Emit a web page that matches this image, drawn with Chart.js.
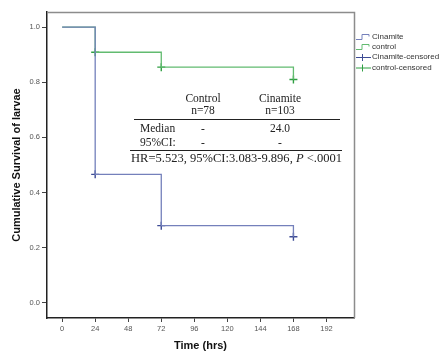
<!DOCTYPE html>
<html>
<head>
<meta charset="utf-8">
<script src="https://cdn.jsdelivr.net/npm/chart.js@4.4.1/dist/chart.umd.min.js"></script>
<style>
  html, body { margin: 0; padding: 0; background: #fff; }
  #wrap { width: 439px; height: 353px; }
</style>
</head>
<body>
<div id="wrap"><canvas id="myChart" width="439" height="353"></canvas></div>
<script>
const times = [0, 24, 72, 168];
const controlSurv = [1.0, 0.909, 0.855, 0.81];
const cinamiteSurv = [1.0, 0.466, 0.28, 0.24];
const censorTimes = [24, 72, 168];
const controlCensored = [0.909, 0.855, 0.81];
const cinamiteCensored = [0.466, 0.28, 0.24];
const xTicks = [0, 24, 48, 72, 96, 120, 144, 168, 192];
const yTicks = [0, 0.2, 0.4, 0.6, 0.8, 1.0];
const legendLabels = ['Cinamite', 'control', 'Cinamite-censored', 'control-censored'];
const groupNames = ['Control', 'Cinamite'];
const groupN = ['n=78', 'n=103'];
const medians = ['-', '24.0'];
const medianCI = ['-', '-'];

const BLUE = '#7480bb';
const BLUE_MARK = '#3d4b95';
const GREEN = '#62bb70';
const GREEN_MARK = '#2f9f42';

const ctx = document.getElementById('myChart').getContext('2d');

function pts(xs, ys) {
    return xs.map((x, i) => ({ x: x, y: ys[i] }));
}

// рамка сверху и справа
const framePlugin = {
    id: 'frame',
    beforeDatasetsDraw(chart) {
        const a = chart.chartArea;
        const c = chart.ctx;
        c.save();
        c.strokeStyle = '#8c8c8c';
        c.lineWidth = 1.5;
        c.beginPath();
        c.moveTo(a.left, a.top + 0.5);
        c.lineTo(a.right + 0.5, a.top + 0.5);
        c.lineTo(a.right + 0.5, a.bottom);
        c.stroke();
        c.restore();
    }
};

// таблица с медианами
const tablePlugin = {
    id: 'table',
    afterDatasetsDraw(chart) {
        const c = chart.ctx;
        c.save();
        c.fillStyle = '#222';
        c.textBaseline = 'middle';
        c.textAlign = 'center';
        c.font = '11.5px "Liberation Serif", "Times New Roman", serif';
        const cols = [203, 280];
        cols.forEach((x, i) => {
            c.fillText(groupNames[i], x, 99);
            c.fillText(groupN[i], x, 111);
            c.fillText(medians[i], x, 129);
            c.fillText(medianCI[i], x, 143);
        });
        c.textAlign = 'left';
        c.fillText('Median', 140, 129);
        c.fillText('95%CI:', 140, 143);

        c.strokeStyle = '#222';
        c.lineWidth = 1;
        c.beginPath();
        c.moveTo(134, 119.5);
        c.lineTo(340, 119.5);
        c.moveTo(130, 150.5);
        c.lineTo(342, 150.5);
        c.stroke();

        // строка HR растянута до ширины таблицы
        const parts = [
            { t: 'HR=5.523, 95%CI:3.083-9.896, ', f: '12px "Liberation Serif", serif' },
            { t: 'P', f: 'italic 12px "Liberation Serif", serif' },
            { t: ' <.0001', f: '12px "Liberation Serif", serif' }
        ];
        let total = 0;
        parts.forEach(p => { c.font = p.f; p.w = c.measureText(p.t).width; total += p.w; });
        const sx = 211 / total;
        c.translate(131, 158.5);
        c.scale(sx, 1);
        let x = 0;
        parts.forEach(p => { c.font = p.f; c.fillText(p.t, x, 0); x += p.w; });
        c.restore();
    }
};

// легенда справа
const legendPlugin = {
    id: 'sideLegend',
    afterDraw(chart) {
        const c = chart.ctx;
        const rows = [37, 47, 57, 67.5];
        const colors = [BLUE, GREEN, BLUE_MARK, GREEN_MARK];
        c.save();
        c.lineWidth = 1;
        rows.forEach((y, i) => {
            c.strokeStyle = colors[i];
            c.beginPath();
            if (i < 2) {
                c.moveTo(356, y + 2.5);
                c.lineTo(362, y + 2.5);
                c.lineTo(362, y - 2.5);
                c.lineTo(369, y - 2.5);
                c.lineTo(369, y - 0.5);
            } else {
                c.moveTo(356, y + 0.5);
                c.lineTo(371, y + 0.5);
                c.moveTo(362.5, y - 3);
                c.lineTo(362.5, y + 4);
            }
            c.stroke();
            c.fillStyle = '#333';
            c.font = '8px "Liberation Sans", Arial, sans-serif';
            c.textBaseline = 'middle';
            c.textAlign = 'left';
            c.fillText(legendLabels[i], 372, y);
        });
        c.restore();
    }
};

const tickFont = { family: '"Liberation Sans", Arial, sans-serif', size: 7.5 };
const titleFont = { family: '"Liberation Sans", Arial, sans-serif', size: 11, weight: 'bold' };

const myChart = new Chart(ctx, {
    type: 'line',
    data: {
        datasets: [{
            label: 'Cinamite',
            data: pts(times, cinamiteSurv),
            borderColor: BLUE,
            borderWidth: 1.3,
            stepped: 'before',
            pointRadius: 0,
            fill: false
        }, {
            label: 'control',
            data: pts(times, controlSurv),
            borderColor: GREEN,
            borderWidth: 1.3,
            stepped: 'before',
            pointRadius: 0,
            fill: false
        }, {
            label: 'Cinamite-censored',
            data: pts(censorTimes, cinamiteCensored),
            showLine: false,
            pointStyle: 'cross',
            pointRadius: 4,
            pointBorderWidth: 1.4,
            pointBorderColor: BLUE_MARK,
            borderColor: BLUE_MARK
        }, {
            label: 'control-censored',
            data: pts(censorTimes, controlCensored),
            showLine: false,
            pointStyle: 'cross',
            pointRadius: 4,
            pointBorderWidth: 1.4,
            pointBorderColor: GREEN_MARK,
            borderColor: GREEN_MARK
        }]
    },
    options: {
        responsive: false,
        animation: false,
        layout: { padding: { top: 12, right: 85, left: 0, bottom: 0 } },
        plugins: {
            legend: { display: false },
            tooltip: { enabled: false }
        },
        scales: {
            x: {
                type: 'linear',
                min: -11,
                max: 212,
                afterBuildTicks: scale => { scale.ticks = xTicks.map(v => ({ value: v })); },
                afterFit: scale => { scale.height = 35; },
                grid: { display: true, drawOnChartArea: false, drawTicks: true, tickLength: 4, color: '#444' },
                border: { display: true, color: '#222', width: 1.5 },
                ticks: { color: '#555', font: tickFont, padding: 2, maxRotation: 0, autoSkip: false },
                title: { display: true, text: 'Time (hrs)', color: '#111', font: titleFont, padding: { top: 0, bottom: 0 } }
            },
            y: {
                type: 'linear',
                min: -0.055,
                max: 1.055,
                afterBuildTicks: scale => { scale.ticks = yTicks.map(v => ({ value: v })); },
                afterFit: scale => { scale.width = 47; },
                grid: { display: true, drawOnChartArea: false, drawTicks: true, tickLength: 5, color: '#444' },
                border: { display: true, color: '#222', width: 1.5 },
                ticks: {
                    color: '#555',
                    font: tickFont,
                    padding: 2,
                    autoSkip: false,
                    callback: v => v.toFixed(1)
                },
                title: { display: true, text: 'Cumulative Survival of larvae', color: '#111', font: titleFont, padding: { top: 10, bottom: 0 } }
            }
        }
    },
    plugins: [framePlugin, tablePlugin, legendPlugin]
});
</script>
</body>
</html>
